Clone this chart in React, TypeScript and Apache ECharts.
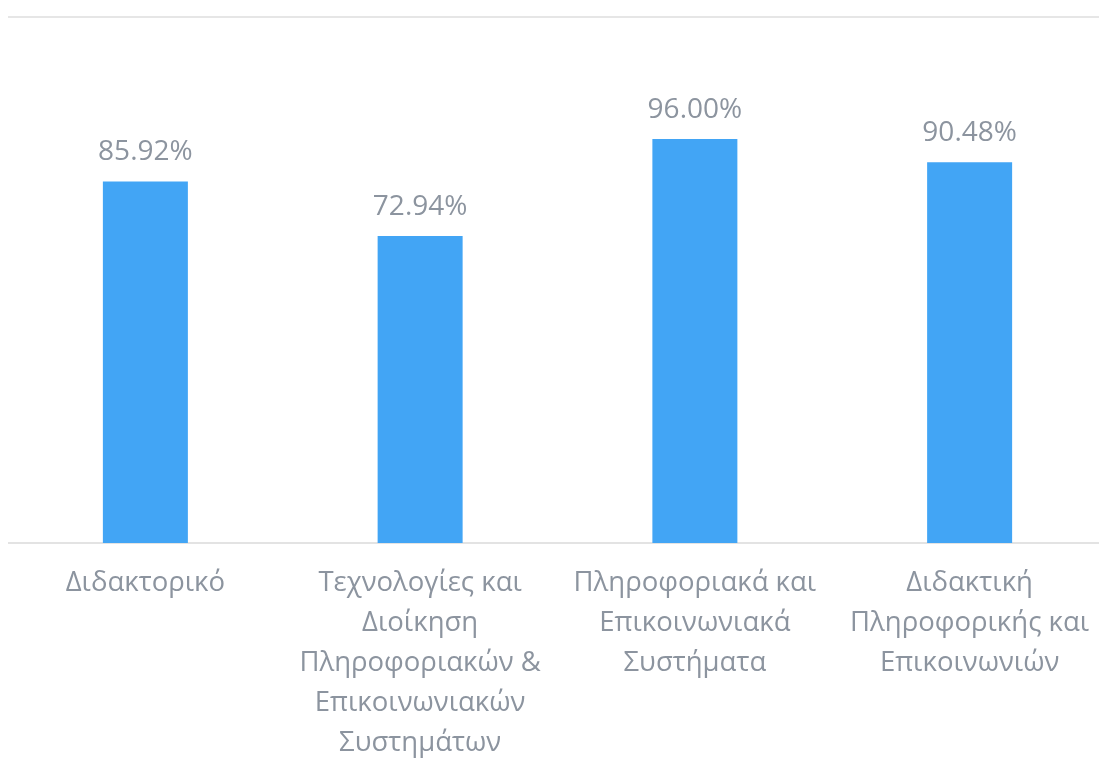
import React, { useEffect, useRef } from "react";
import * as echarts from "echarts";

const categories = [
  "Διδακτορικό",
  "Τεχνολογίες και\nΔιοίκηση\nΠληροφοριακών &\nΕπικοινωνιακών\nΣυστημάτων",
  "Πληροφοριακά και\nΕπικοινωνιακά\nΣυστήματα",
  "Διδακτική\nΠληροφορικής και\nΕπικοινωνιών",
];
const values = [0.8592, 0.7294, 0.96, 0.9048];

export default function App() {
  const ref = useRef<HTMLDivElement>(null);
  useEffect(() => {
    if (!ref.current) return;
    const chart = echarts.init(ref.current, null, { renderer: "svg" });
    chart.setOption({
      animation: false,
      grid: { left: 0, right: 0, top: 9, bottom: 211, containLabel: false },
      xAxis: {
        type: "category",
        data: categories,
        axisLine: { show: true, lineStyle: { color: "#e3e3e3", width: 2 } },
        axisTick: { show: false },
        axisLabel: {
          interval: 0,
          color: "#8c949f",
          fontFamily: "Open Sans",
          fontSize: 27.5,
          lineHeight: 40,
          margin: 17,
          align: "center",
        },
      },
      yAxis: {
        type: "value",
        min: 0,
        max: 1.25,
        interval: 1.25,
        axisLabel: { show: false },
        axisLine: { show: false },
        axisTick: { show: false },
        splitLine: { show: true, lineStyle: { color: "#e6e6e6", width: 2 } },
      },
      series: [
        {
          type: "bar",
          data: values,
          barWidth: 85,
          itemStyle: { color: "#42A5F5" },
          label: {
            show: true,
            position: "top",
            distance: 18,
            color: "#8c949f",
            fontFamily: "Open Sans",
            fontSize: 28,
            formatter: (p: any) => (p.value * 100).toFixed(2) + "%",
          },
        },
      ],
    });
    return () => chart.dispose();
  }, []);
  return (
    <div
      style={{
        position: "fixed",
        left: 8,
        top: 8,
        width: 1091,
        height: 752,
        overflow: "hidden",
      }}
    >
      <div ref={ref} style={{ width: 1099, height: 752 }} />
    </div>
  );
}
